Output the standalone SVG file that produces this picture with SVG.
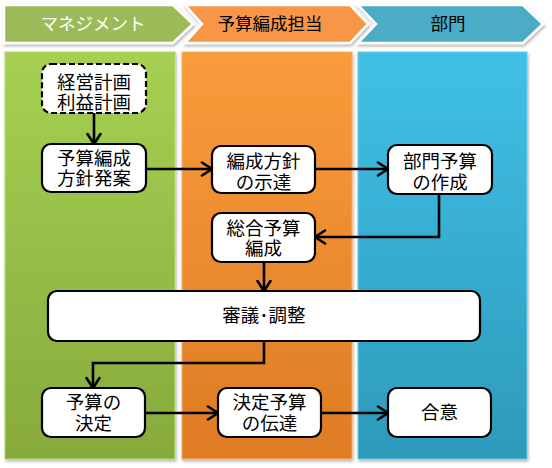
<svg xmlns="http://www.w3.org/2000/svg" width="552" height="468" viewBox="0 0 552 468">
<defs>
<linearGradient id="gG" x1="0" y1="0" x2="0" y2="1"><stop offset="0" stop-color="#a6d052"/><stop offset="1" stop-color="#87aa3d"/></linearGradient>
<linearGradient id="gO" x1="0" y1="0" x2="0" y2="1"><stop offset="0" stop-color="#f99c3c"/><stop offset="1" stop-color="#de7b24"/></linearGradient>
<linearGradient id="gB" x1="0" y1="0" x2="0" y2="1"><stop offset="0" stop-color="#40c0e6"/><stop offset="1" stop-color="#2d9aba"/></linearGradient>
<filter id="sh" x="-10%" y="-20%" width="120%" height="150%"><feDropShadow dx="1" dy="2" stdDeviation="1.5" flood-color="#000" flood-opacity="0.3"/></filter>
<marker id="ar" viewBox="0 0 14 16" refX="12" refY="8" markerWidth="14" markerHeight="16" markerUnits="userSpaceOnUse" orient="auto">
<path d="M2,1.5 L12,8 L2,14.5" fill="none" stroke="#000" stroke-width="2.6" stroke-linecap="round" stroke-linejoin="miter"/>
</marker>
<style>
.hd{stroke:#fff;stroke-width:2.5;filter:url(#sh)}
.col{stroke-width:1;filter:url(#sh)}
.ht{font-family:"Noto Sans CJK JP","Noto Sans",sans-serif;font-size:17.5px;text-anchor:middle}
.box{fill:#fff;stroke:#000;stroke-width:2.2}
.dash{stroke-dasharray:6,3}
.t{font-family:"Noto Sans CJK JP","Noto Sans",sans-serif;font-size:18.5px;text-anchor:middle;fill:#000}
.c{fill:none;stroke:#000;stroke-width:2.6;marker-end:url(#ar)}
</style>
</defs>
<g id="lanes">
<rect class="col" x="5" y="52" width="170" height="407" fill="url(#gG)" stroke="#b6dc6a"/>
<rect class="col" x="182" y="52" width="170" height="407" fill="url(#gO)" stroke="#fbb060"/>
<rect class="col" x="358" y="52" width="169" height="407" fill="url(#gB)" stroke="#62cdea"/>
</g>
<g id="header-management">
<path class="hd" d="M4,5 L173,5 L193,24 L173,43 L4,43 Z" fill="#9bbb59"/>
<text class="ht" x="93" y="30" fill="#fff">マネジメント</text>
</g>
<g id="header-budget">
<path class="hd" d="M185,5 L350,5 L368,24 L350,43 L185,43 L202,24 Z" fill="#f79646"/>
<text class="ht" x="270" y="30" fill="#000">予算編成担当</text>
</g>
<g id="header-dept">
<path class="hd" d="M358,5 L523,5 L543,24 L523,43 L358,43 L376,24 Z" fill="#4bacc6"/>
<text class="ht" x="448" y="30" fill="#000">部門</text>
</g>
<g id="connectors">
<line class="c" x1="94" y1="113" x2="94" y2="144"/>
<line class="c" x1="146" y1="169" x2="212" y2="169"/>
<line class="c" x1="315" y1="169" x2="388" y2="169"/>
<polyline class="c" points="439,194 439,237 315,237"/>
<line class="c" x1="264" y1="262" x2="264" y2="291"/>
<polyline class="c" points="264,341 264,363 93,363 93,388"/>
<line class="c" x1="145" y1="413" x2="218" y2="413"/>
<line class="c" x1="321" y1="413" x2="388" y2="413"/>
</g>
<g id="n-keiei">
<rect class="box dash" x="42" y="64" width="104" height="49" rx="9"/>
<text class="t" x="94" y="88.5">経営計画</text>
<text class="t" x="94" y="108.5">利益計画</text>
</g>
<g id="n-hoshin-an">
<rect class="box" x="42" y="144" width="104" height="48" rx="9"/>
<text class="t" x="94" y="164.5">予算編成</text>
<text class="t" x="94" y="184.5">方針発案</text>
</g>
<g id="n-shitatsu">
<rect class="box" x="212" y="146" width="103" height="47" rx="9"/>
<text class="t" x="263.5" y="168">編成方針</text>
<text class="t" x="263.5" y="189">の示達</text>
</g>
<g id="n-bumon">
<rect class="box" x="388" y="145" width="104" height="49" rx="9"/>
<text class="t" x="440" y="168">部門予算</text>
<text class="t" x="440" y="189">の作成</text>
</g>
<g id="n-sogo">
<rect class="box" x="212" y="213" width="103" height="49" rx="9"/>
<text class="t" x="263.5" y="234.5">総合予算</text>
<text class="t" x="263.5" y="254.5">編成</text>
</g>
<g id="n-shingi">
<rect class="box" x="48" y="291" width="432" height="50" rx="9"/>
<text class="t" x="264" y="322">審議･調整</text>
</g>
<g id="n-kettei">
<rect class="box" x="42" y="388" width="103" height="49" rx="9"/>
<text class="t" x="93.5" y="408.5">予算の</text>
<text class="t" x="93.5" y="429.5">決定</text>
</g>
<g id="n-dentatsu">
<rect class="box" x="218" y="388" width="103" height="49" rx="9"/>
<text class="t" x="269.5" y="408.5">決定予算</text>
<text class="t" x="269.5" y="429.5">の伝達</text>
</g>
<g id="n-goi">
<rect class="box" x="388" y="388" width="103" height="49" rx="9"/>
<text class="t" x="439.5" y="419">合意</text>
</g>
</svg>
